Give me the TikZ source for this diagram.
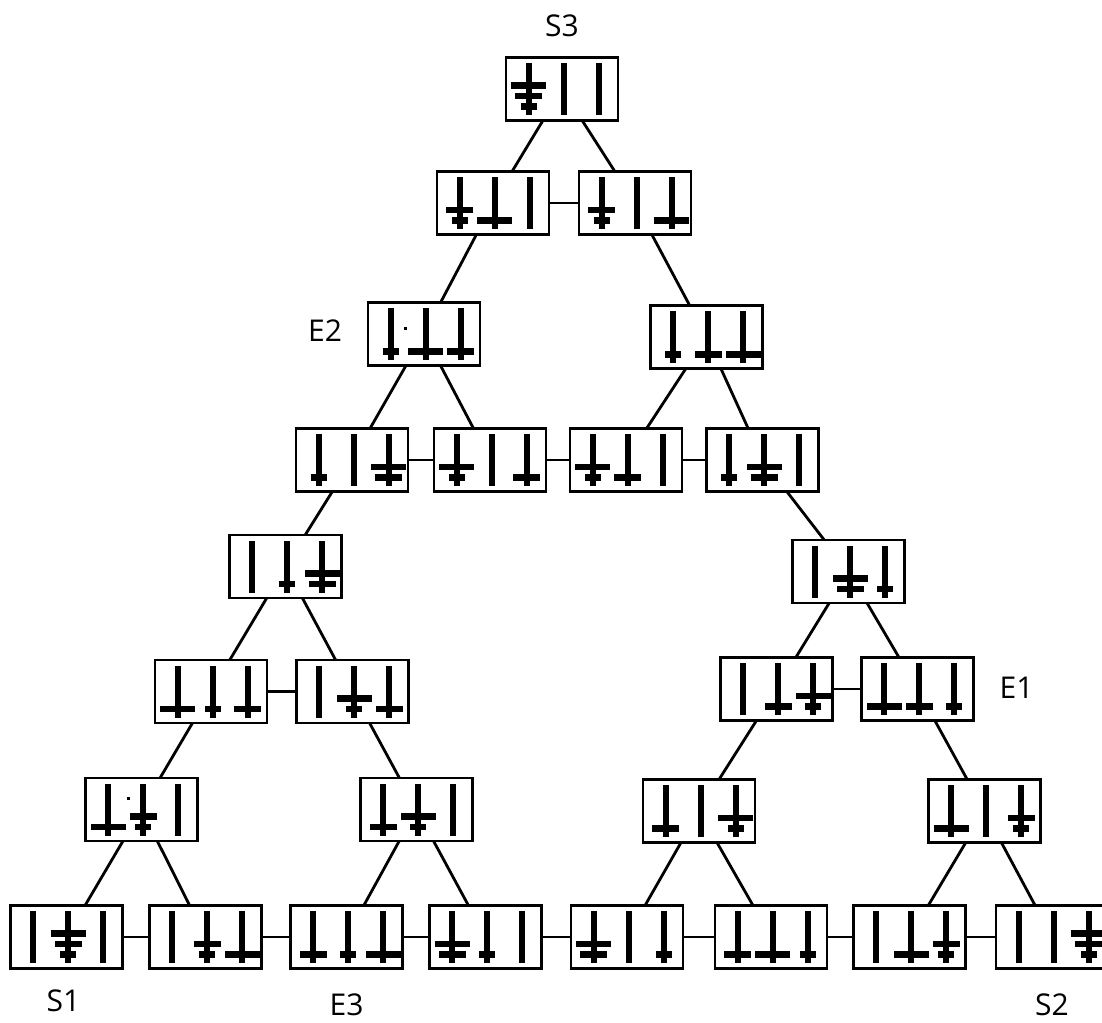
\documentclass[tikz,border=0pt]{standalone}
\usepackage{fontspec}
\setmainfont{Open Sans}
\tikzset{
  st/.style={draw, line width=2.2pt, fill=white, minimum width=112pt, minimum height=63pt, inner sep=0pt, outer sep=0pt},
  edge/.style={line width=2.8pt},
  lab/.style={font=\fontsize{30}{36}\selectfont, anchor=base, inner sep=0pt},
}
\newcommand{\hpeg}[3]{%
  \fill ({#1-3},{#2-26}) rectangle ({#1+3},{#2+26});
  \foreach \w [count=\k from 0] in {#3} {\fill ({#1-\w/2},{#2+17.5-10.5*\k-3.2}) rectangle ({#1+\w/2},{#2+17.5-10.5*\k+3.2});}
}
\newcommand{\hst}[6]{%
  \node[st] (#1) at (#2,#3) {};
  \hpeg{#2-33.5}{#3}{#4}
  \hpeg{#2+1.5}{#3}{#5}
  \hpeg{#2+36.5}{#3}{#6}
}
\begin{document}
\begin{tikzpicture}[x=1pt,y=-1pt]
\useasboundingbox (0,0) rectangle (1102,1022);
\fill[white] (0,0) rectangle (1102,1022);
\clip (0,0) rectangle (1102,1022);
% row 0
\hst{a0}{562}{89}{16,27,35}{0}{0}
% row 1
\hst{b1}{493}{203}{16,27}{35}{0}
\hst{b2}{635}{203}{16,27}{0}{35}
% row 2
\hst{c1}{424}{334}{16}{35}{27}
\hst{c2}{706.5}{337}{16}{27}{35}
% row 3
\hst{d1}{352}{460}{16}{0}{27,35}
\hst{d2}{490}{460}{16,35}{0}{27}
\hst{d3}{626}{460}{16,35}{27}{0}
\hst{d4}{762.5}{460}{16}{27,35}{0}
% row 4
\hst{e1}{285.5}{566.5}{0}{16}{27,35}
\hst{e2}{848.5}{571.5}{0}{27,35}{16}
% row 5
\hst{f1}{211}{691.5}{35}{16}{27}
\hst{f2}{352.5}{691.5}{0}{16,35}{27}
\hst{f3}{776.5}{689}{0}{27}{16,35}
\hst{f4}{917.5}{689}{35}{27}{16}
% row 6
\hst{g1}{141.5}{809.5}{35}{16,27}{0}
\hst{g2}{416.5}{809.5}{27}{16,35}{0}
\hst{g3}{699}{811}{27}{0}{16,35}
\hst{g4}{984.5}{811}{35}{0}{16,27}
% row 7
\hst{h1}{66.5}{937}{0}{16,27,35}{0}
\hst{h2}{205.5}{937}{0}{16,27}{35}
\hst{h3}{346.5}{937}{27}{16}{35}
\hst{h4}{485.5}{937}{27,35}{16}{0}
\hst{h5}{627}{937}{27,35}{0}{16}
\hst{h6}{771}{937}{27}{35}{16}
\hst{h7}{909.5}{937}{0}{35}{16,27}
\hst{h8}{1052}{937}{0}{0}{16,27,35}
% stray dots
\fill (404,327) rectangle (407,330);
\fill (127,797) rectangle (130,800);
% edges
\foreach \p/\q in {a0/b1,a0/b2,b1/b2,b1/c1,b2/c2,
  c1/d1,c1/d2,d1/d2,d2/d3,c2/d3,c2/d4,d3/d4,
  d1/e1,d4/e2,
  e1/f1,e1/f2,f1/f2,e2/f3,e2/f4,f3/f4,
  f1/g1,f2/g2,f3/g3,f4/g4,
  g1/h1,g1/h2,h1/h2,h2/h3,g2/h3,g2/h4,h3/h4,h4/h5,g3/h5,g3/h6,h5/h6,h6/h7,g4/h7,g4/h8,h7/h8}
  {\draw[edge] (\p) -- (\q);}
% labels
\node[lab] (lS3) at (562,37) {S3};
\node[lab] (lE2) at (325,341) {E2};
\node[lab] (lE1) at (1016.5,698) {E1};
\node[lab] (lS1) at (63.5,1011) {S1};
\node[lab] (lE3) at (346.5,1015) {E3};
\node[lab] (lS2) at (1052,1015) {S2};
\end{tikzpicture}
\end{document}
